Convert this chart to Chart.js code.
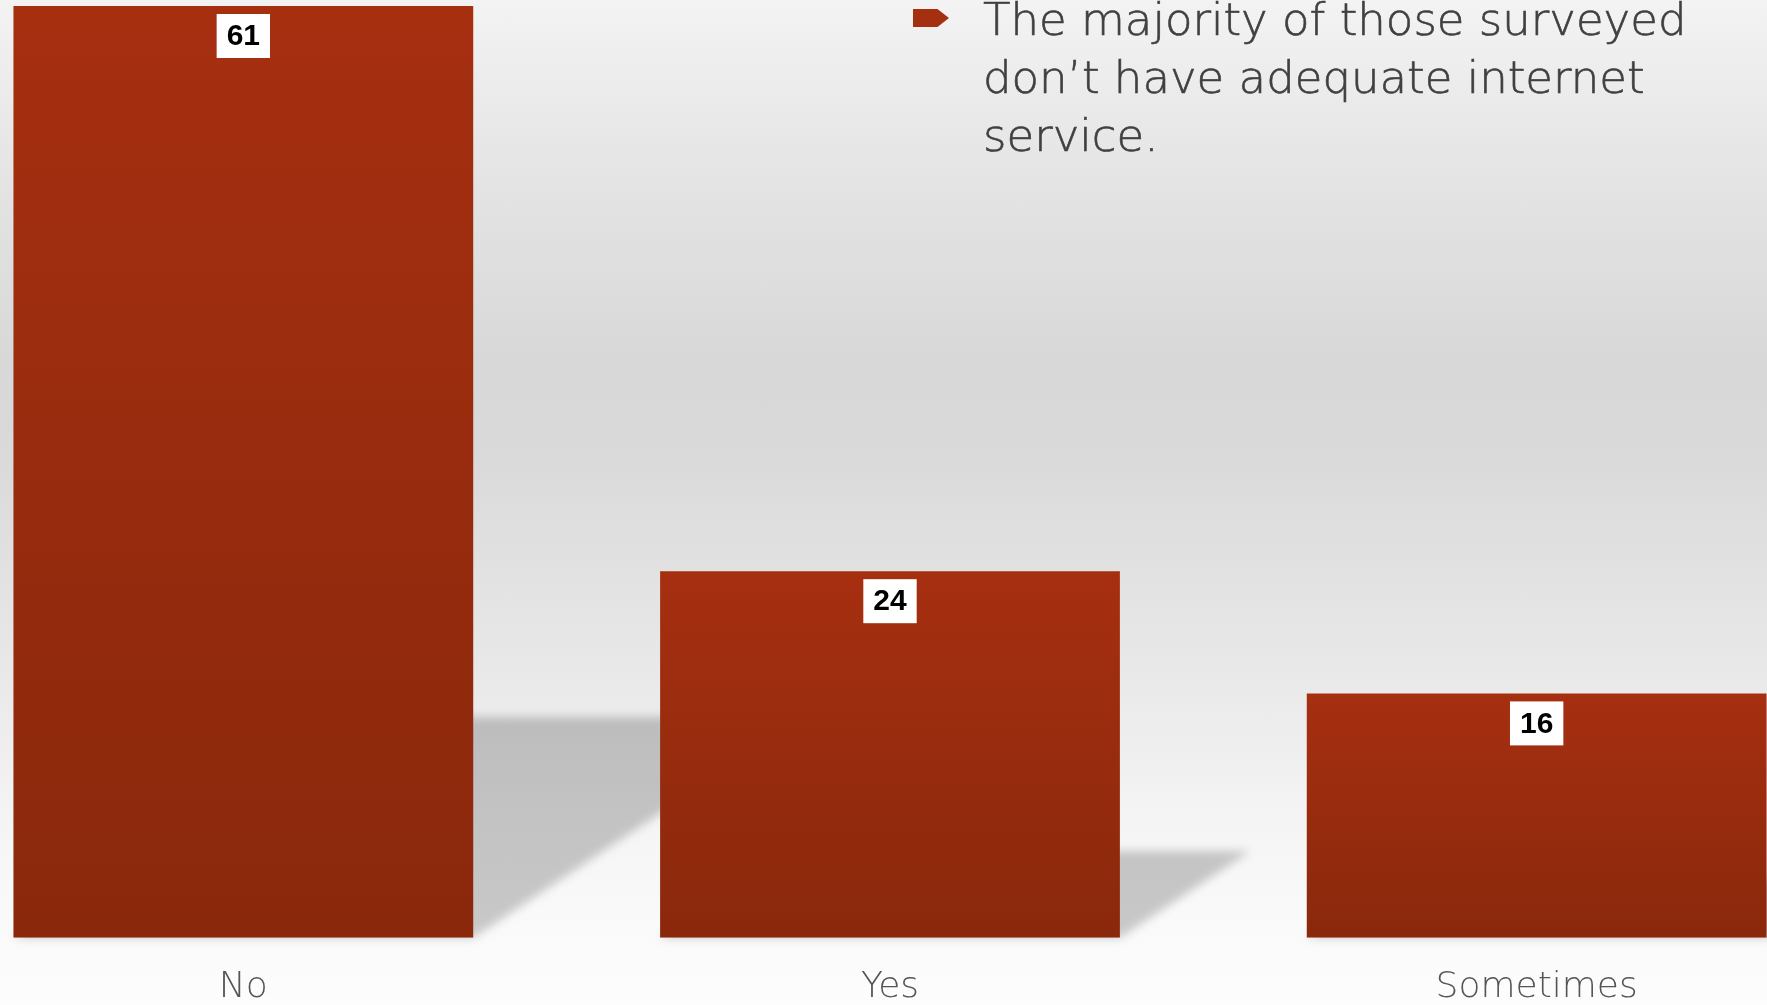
<!DOCTYPE html>
<html>
<head>
<meta charset="utf-8">
<script src="https://cdn.jsdelivr.net/npm/chart.js@4"></script>
<style>
    html, body {
        margin: 0;
        padding: 0;
        width: 1767px;
        height: 1005px;
        overflow: hidden;
    }
    body {
        position: relative;
        background: linear-gradient(to bottom, #f3f3f3 0%, #e4e4e4 18%, #d8d8d8 36%, #dadada 46%, #e8e8e8 66%, #f6f6f6 84%, #fdfdfd 100%);
        font-family: "DejaVu Sans", sans-serif;
    }
    #chartBox {
        position: absolute;
        left: -80px;
        top: 0;
        width: 1940px;
        height: 1037px;
    }
    .bullet {
        position: absolute;
        left: 913px;
        top: 9px;
        width: 36px;
        height: 18px;
        background: #a5300f;
        clip-path: polygon(0 0, 68% 0, 100% 50%, 68% 100%, 0 100%);
        z-index: 2;
    }
    #note {
        position: absolute;
        left: 983px;
        top: -9px;
        margin: 0;
        font-size: 45px;
        font-weight: 200;
        line-height: 58px;
        color: #404040;
        -webkit-text-stroke: 0.6px #404040;
        white-space: nowrap;
        z-index: 2;
    }
</style>
</head>
<body>
<div class="bullet"></div>
<p id="note">The majority of those surveyed<br>don’t have adequate internet<br>service.</p>
<div id="chartBox"><canvas id="surveyChart" width="1940" height="1037"></canvas></div>

<script>
const categories = ['No', 'Yes', 'Sometimes'];
const responses = [61, 24, 16];

// sombra en perspectiva detras de cada barra
const floorShadow = {
    id: 'floorShadow',
    beforeDatasetsDraw(chart) {
        const ctx = chart.ctx;
        const bars = chart.getDatasetMeta(0).data;
        ctx.save();
        ctx.filter = 'blur(5px)';
        ctx.fillStyle = 'rgba(0, 0, 0, 0.2)';
        bars.forEach(bar => {
            const left = bar.x - bar.width / 2;
            const right = bar.x + bar.width / 2;
            const h = (bar.base - bar.y) * 0.237;
            const s = h * 1.5;
            ctx.beginPath();
            ctx.moveTo(left, bar.base);
            ctx.lineTo(right, bar.base);
            ctx.lineTo(right + s, bar.base - h);
            ctx.lineTo(left + s, bar.base - h);
            ctx.closePath();
            ctx.fill();
        });
        ctx.restore();
    }
};

// etiquetas blancas con el valor
const valueBoxes = {
    id: 'valueBoxes',
    afterDatasetsDraw(chart) {
        const ctx = chart.ctx;
        const bars = chart.getDatasetMeta(0).data;
        ctx.save();
        ctx.font = 'bold 30px "Liberation Sans Narrow", "Liberation Sans", sans-serif';
        ctx.textAlign = 'center';
        ctx.textBaseline = 'middle';
        bars.forEach((bar, i) => {
            const text = String(responses[i]);
            const w = ctx.measureText(text).width + 20;
            const top = bar.y + 8;
            ctx.fillStyle = '#ffffff';
            ctx.fillRect(bar.x - w / 2, top, w, 44);
            ctx.fillStyle = '#000000';
            ctx.fillText(text, bar.x, top + 23);
        });
        ctx.restore();
    }
};

const surveyCtx = document.getElementById('surveyChart').getContext('2d');
new Chart(surveyCtx, {
    type: 'bar',
    data: {
        labels: categories,
        datasets: [{
            label: 'Responses',
            data: responses,
            backgroundColor: function(context) {
                const chart = context.chart;
                if (!chart.chartArea) {
                    return '#9a2b0e';
                }
                const yScale = chart.scales.y;
                const top = yScale.getPixelForValue(context.raw);
                const bottom = yScale.getPixelForValue(0);
                const g = chart.ctx.createLinearGradient(0, top, 0, bottom);
                g.addColorStop(0, '#a62f10');
                g.addColorStop(1, '#8a280c');
                return g;
            },
            borderWidth: 0,
            categoryPercentage: 1,
            barPercentage: 0.711
        }]
    },
    options: {
        responsive: false,
        animation: false,
        layout: {
            padding: { top: 6, left: 0, right: 0, bottom: 0 }
        },
        plugins: {
            legend: { display: false },
            tooltip: { enabled: false }
        },
        scales: {
            x: {
                grid: { display: false, drawTicks: false },
                border: { display: false },
                ticks: {
                    color: '#555555',
                    padding: 28,
                    font: { family: '"DejaVu Sans", sans-serif', size: 36, weight: '200' }
                }
            },
            y: {
                display: false,
                min: 0,
                max: 61
            }
        }
    },
    plugins: [floorShadow, valueBoxes]
});
</script>
</body>
</html>
